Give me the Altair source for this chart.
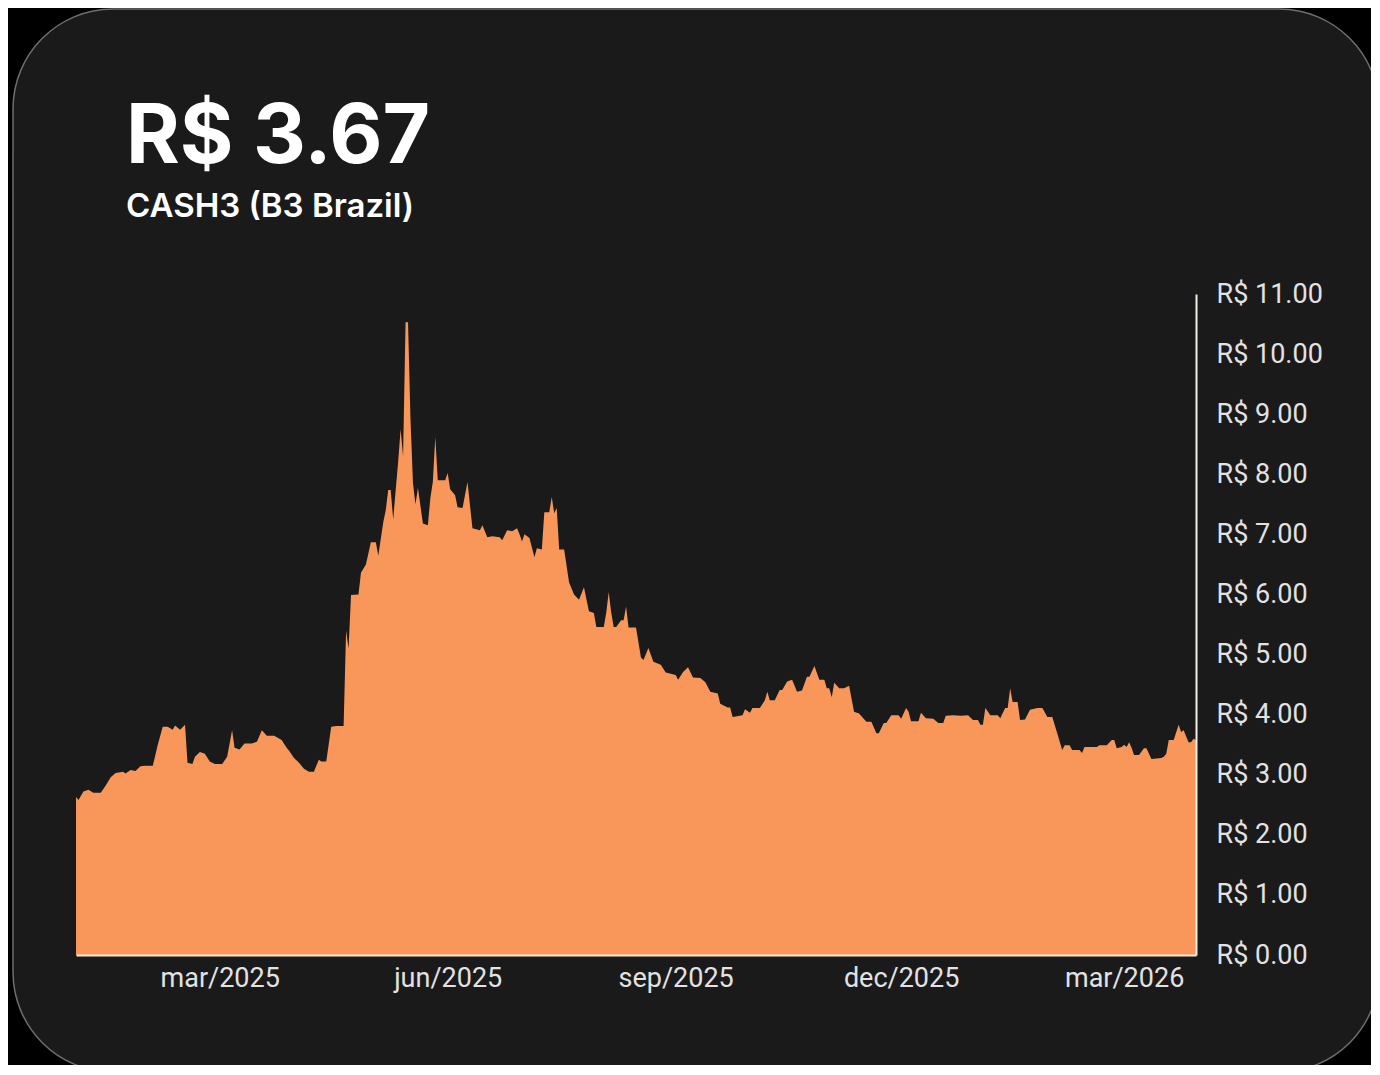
import altair as alt
import pandas as pd

# ---- data ----
START_DATE = "2025-01-02"
day_offsets = [
    0, 1, 3, 5, 7, 10, 12, 14, 16, 19, 20, 22, 24, 26, 28, 31, 33, 35, 37, 39,
    40, 42, 44, 45, 47, 48, 50, 52, 54, 56, 59, 61, 63, 64, 66, 68, 71, 73, 75, 77,
    80, 83, 85, 86, 88, 90, 92, 94, 96, 98, 99, 101, 103, 105, 108, 109, 110, 111, 114, 115,
    117, 119, 121, 122, 124, 125, 126, 127, 128, 130, 131, 132, 133, 134, 135, 136, 137, 138, 140, 142,
    143, 144, 145, 146, 149, 150, 151, 153, 154, 156, 158, 160, 163, 164, 166, 168, 171, 172, 174, 176,
    178, 179, 180, 181, 183, 185, 186, 188, 189, 191, 192, 193, 194, 195, 197, 199, 201, 203, 205, 207,
    209, 210, 213, 214, 215, 216, 217, 218, 220, 221, 222, 223, 226, 228, 229, 231, 233, 236, 238, 242,
    243, 245, 247, 249, 252, 254, 256, 259, 260, 263, 264, 265, 269, 270, 272, 273, 276, 278, 279, 280,
    282, 284, 285, 287, 289, 291, 293, 295, 296, 298, 300, 302, 303, 304, 305, 306, 308, 310, 312, 314,
    316, 319, 321, 323, 324, 326, 327, 329, 332, 333, 335, 336, 337, 340, 341, 343, 346, 348, 350, 351,
    354, 357, 360, 362, 364, 365, 366, 367, 369, 372, 373, 375, 376, 377, 378, 380, 381, 383, 385, 388,
    390, 392, 394, 396, 398, 399, 401, 402, 405, 406, 407, 412, 413, 416, 418, 419, 420, 422, 423, 424,
    425, 426, 427, 429, 431, 432, 434, 438, 439, 440, 441, 443, 445, 446, 447, 449, 450, 451, 452,
]
prices = [
    2.63, 2.58, 2.72, 2.75, 2.70, 2.70, 2.82, 2.96, 3.03, 3.05, 3.02, 3.08, 3.06, 3.14, 3.15, 3.15, 3.50, 3.80, 3.80, 3.75,
    3.82, 3.75, 3.83, 3.20, 3.18, 3.30, 3.38, 3.35, 3.22, 3.18, 3.18, 3.30, 3.74, 3.45, 3.42, 3.52, 3.52, 3.55, 3.74, 3.65,
    3.65, 3.58, 3.45, 3.40, 3.28, 3.20, 3.10, 3.05, 3.05, 3.25, 3.22, 3.22, 3.80, 3.81, 3.81, 5.40, 5.10, 5.99, 6.00, 6.36,
    6.50, 6.87, 6.87, 6.65, 7.20, 7.40, 7.74, 7.74, 7.25, 8.20, 8.75, 8.30, 10.53, 10.53, 8.90, 7.85, 7.50, 7.77, 7.18, 7.15,
    7.60, 7.87, 8.62, 7.90, 7.90, 8.02, 7.75, 7.65, 7.45, 7.44, 7.87, 7.10, 7.07, 7.15, 6.95, 6.97, 6.95, 6.90, 7.07, 7.05,
    7.10, 7.00, 6.88, 7.00, 6.94, 6.62, 6.77, 6.75, 7.37, 7.37, 7.62, 7.35, 7.44, 6.75, 6.75, 6.20, 6.00, 5.91, 6.12, 5.72,
    5.69, 5.46, 5.46, 5.70, 6.04, 5.70, 5.46, 5.46, 5.57, 5.57, 5.80, 5.45, 5.45, 4.95, 4.91, 5.11, 4.88, 4.83, 4.70, 4.66,
    4.58, 4.71, 4.79, 4.62, 4.61, 4.54, 4.38, 4.35, 4.18, 4.12, 4.12, 3.96, 3.99, 4.09, 4.03, 4.11, 4.11, 4.24, 4.38, 4.24,
    4.24, 4.41, 4.41, 4.55, 4.58, 4.38, 4.40, 4.63, 4.63, 4.81, 4.58, 4.58, 4.44, 4.44, 4.29, 4.53, 4.44, 4.44, 4.48, 4.05,
    4.02, 3.88, 3.88, 3.69, 3.69, 3.86, 3.86, 3.99, 3.99, 3.93, 4.11, 4.05, 3.89, 3.89, 4.03, 3.94, 3.93, 3.86, 3.86, 3.98,
    3.99, 3.98, 3.99, 3.91, 3.91, 3.83, 3.83, 4.11, 3.99, 3.99, 3.94, 4.11, 4.11, 4.44, 4.21, 4.21, 3.91, 3.92, 4.08, 4.11,
    4.11, 3.96, 3.96, 3.69, 3.41, 3.49, 3.49, 3.41, 3.41, 3.36, 3.46, 3.46, 3.49, 3.49, 3.58, 3.58, 3.44, 3.46, 3.50, 3.46,
    3.54, 3.45, 3.33, 3.33, 3.44, 3.44, 3.26, 3.28, 3.30, 3.35, 3.58, 3.58, 3.83, 3.71, 3.74, 3.54, 3.54, 3.60, 3.58,
]
x_tick_months = [(2025, 3), (2025, 6), (2025, 9), (2025, 12), (2026, 3)]
y_tick_values = [0, 1, 2, 3, 4, 5, 6, 7, 8, 9, 10, 11]
last_price = 3.67
ticker_label = "CASH3 (B3 Brazil)"

df = pd.DataFrame({
    "date": pd.Timestamp(START_DATE) + pd.to_timedelta(day_offsets, unit="D"),
    "price": prices,
})

AXIS_LINE = "#f3eee4"
LABEL = "#e2e2e2"

card = alt.Chart(alt.Data(values=[{"card": 1}])).mark_rect(
    fill="#1a1a1a", stroke="#6e6e6e", strokeWidth=1.5, cornerRadius=100
).encode(
    x=alt.value(-63), x2=alt.value(1303), y=alt.value(-285), y2=alt.value(778)
)

headline = alt.Chart(alt.Data(values=[{"t": f"R$ {last_price:.2f}"}])).mark_text(
    font="Inter", fontSize=82, fontWeight="bold", color="#ffffff",
    align="left", baseline="alphabetic",
).encode(text="t:N", x=alt.value(50), y=alt.value(-131))

subhead = alt.Chart(alt.Data(values=[{"t": ticker_label}])).mark_text(
    font="Inter", fontSize=33, fontWeight=600, color="#ffffff",
    align="left", baseline="alphabetic",
).encode(text="t:N", x=alt.value(50), y=alt.value(-77))

area = alt.Chart(df).mark_area(color="#F9965A", interpolate="linear").encode(
    x=alt.X(
        "date:T",
        scale=alt.Scale(nice=False, padding=0),
        axis=alt.Axis(
            title=None,
            values=[alt.DateTime(year=y, month=m, date=1) for y, m in x_tick_months],
            labelExpr="lower(timeFormat(datum.value, '%b/%Y'))",
            ticks=False, grid=False, domainColor=AXIS_LINE, domainWidth=2,
            labelFont="Roboto", labelFontSize=27, labelColor=LABEL,
            labelPadding=10, labelFlush=False, zindex=1,
        ),
    ),
    y=alt.Y(
        "price:Q",
        scale=alt.Scale(domain=[0, 11], nice=False),
        axis=alt.Axis(
            title=None, orient="right", values=y_tick_values,
            labelExpr="'R$ ' + format(datum.value, '.2f')",
            ticks=False, grid=False, domainColor=AXIS_LINE, domainWidth=2,
            labelFont="Roboto", labelFontSize=27, labelColor=LABEL,
            labelPadding=20, zindex=1,
        ),
    ),
)

chart = alt.layer(card, headline, subhead, area).properties(
    width=1120,
    height=661,
    autosize=alt.AutoSizeParams(type="none"),
    padding={"left": 68, "top": 286, "right": 175, "bottom": 110},
).configure(background="#000000").configure_view(stroke=None)

chart.save("out.html", embed_options={"renderer": "svg", "actions": False})
